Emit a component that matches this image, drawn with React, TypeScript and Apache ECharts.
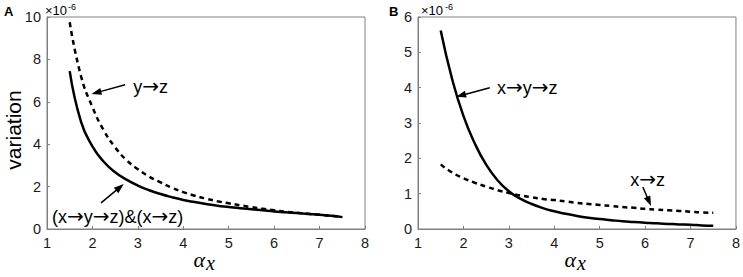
import React, { useEffect, useRef } from "react";
import * as echarts from "echarts";

// alpha_x sample positions
const alphaX = [1.5, 1.75, 2, 2.25, 2.5, 2.75, 3, 3.25, 3.5, 3.75, 4, 4.25, 4.5, 4.75, 5, 5.25, 5.5, 5.75, 6, 6.25, 6.5, 6.75, 7, 7.25, 7.5];
// Panel A (×10^-6)
const aChain = [7.45, 5.05, 3.9, 3.17, 2.68, 2.33, 2.05, 1.83, 1.65, 1.5, 1.37, 1.27, 1.18, 1.1, 1.04, 0.98, 0.93, 0.88, 0.83, 0.79, 0.75, 0.71, 0.67, 0.62, 0.56];
const aYZ = [9.75, 7.2, 5.75, 4.65, 3.85, 3.25, 2.82, 2.47, 2.2, 1.95, 1.74, 1.57, 1.43, 1.31, 1.21, 1.12, 1.03, 0.95, 0.88, 0.82, 0.77, 0.72, 0.67, 0.62, 0.57];
// Panel B (×10^-6)
const bXYZ = [5.62, 4.25, 3.2, 2.42, 1.82, 1.38, 1.07, 0.86, 0.71, 0.59, 0.5, 0.43, 0.37, 0.32, 0.28, 0.25, 0.22, 0.2, 0.18, 0.16, 0.145, 0.13, 0.12, 0.1, 0.09];
const bXZ = [1.83, 1.6, 1.44, 1.31, 1.2, 1.1, 1.02, 0.95, 0.9, 0.85, 0.82, 0.78, 0.74, 0.71, 0.68, 0.65, 0.62, 0.6, 0.57, 0.55, 0.53, 0.51, 0.49, 0.47, 0.46];

const xTicks = { min: 1, max: 8, interval: 1 };
const yTicksA = { min: 0, max: 10, interval: 2 };
const yTicksB = { min: 0, max: 6, interval: 1 };

// annotations: [grid, label, textX, textY, arrowFromX, arrowFromY, arrowToX, arrowToY]
const notes: [number, string, number, number, number, number, number, number][] = [
  [0, "y→z", 2.9, 6.7, 2.72, 6.8, 1.98, 6.37],
  [0, "(x→y→z)&(x→z)", 1.11, 0.57, 2.19, 1.23, 2.69, 2.12],
  [1, "x→y→z", 2.74, 4.0, 2.58, 4.0, 1.84, 3.74],
  [1, "x→z", 5.67, 1.39, 5.95, 1.19, 6.13, 0.65],
];

const FONT = "'Liberation Sans', Arial, sans-serif";
const GRAY = "#808080";

const pairs = (xs: number[], ys: number[]) => xs.map((x, i) => [x, ys[i]]);

export default function App() {
  const ref = useRef<HTMLDivElement>(null);
  useEffect(() => {
    document.body.style.margin = "0";
    const chart = echarts.init(ref.current!, null, { renderer: "svg" });
    const axisCommon = {
      type: "value",
      axisLine: { show: true, lineStyle: { color: GRAY, width: 1 } },
      axisTick: { show: true, inside: true, length: 3, lineStyle: { color: GRAY } },
      axisLabel: { fontSize: 14.5, color: "#1a1a1a", fontFamily: FONT, margin: 6 },
      splitLine: { show: false },
    };
    const line = (xi: number, data: number[], dashed: boolean) => ({
      type: "line",
      xAxisIndex: xi,
      yAxisIndex: xi,
      data: pairs(alphaX, data),
      showSymbol: false,
      smooth: 0.5,
      lineStyle: { color: "#000", width: 2.5, type: dashed ? [5, 4] : "solid" },
    });
    chart.setOption({
      animation: false,
      grid: [
        { left: 47, right: 378, top: 17, bottom: 48, show: true, borderColor: GRAY, borderWidth: 1 },
        { left: 418, right: 7, top: 17, bottom: 48, show: true, borderColor: GRAY, borderWidth: 1 },
      ],
      xAxis: [
        { ...axisCommon, gridIndex: 0, ...xTicks },
        { ...axisCommon, gridIndex: 1, ...xTicks },
      ],
      yAxis: [
        { ...axisCommon, gridIndex: 0, ...yTicksA },
        { ...axisCommon, gridIndex: 1, ...yTicksB },
      ],
      series: [line(0, aChain, false), line(0, aYZ, true), line(1, bXYZ, false), line(1, bXZ, true)],
    });

    const g: any[] = [];
    const txt = (x: number, y: number, text: string, size: number, extra: any = {}) => ({
      type: "text",
      x,
      y,
      style: { text, fontSize: size, fontFamily: FONT, fill: "#000", align: "left", verticalAlign: "middle", ...extra },
    });
    notes.forEach(([gi, label, tx, ty, fx, fy, ax, ay]) => {
      const p = chart.convertToPixel({ gridIndex: gi }, [tx, ty]) as number[];
      const f = chart.convertToPixel({ gridIndex: gi }, [fx, fy]) as number[];
      const a = chart.convertToPixel({ gridIndex: gi }, [ax, ay]) as number[];
      const richText = label
        .split("→")
        .map((s) => (s ? `{t|${s}}` : ""))
        .join("{r|→}");
      g.push({
        type: "text",
        x: p[0],
        y: p[1],
        style: {
          text: richText,
          align: "left",
          verticalAlign: "middle",
          rich: {
            t: { fontSize: 18, fontFamily: FONT, fill: "#000", lineHeight: 22, verticalAlign: "middle" },
            r: { fontSize: 20, fontFamily: "'DejaVu Sans', sans-serif", fill: "#000", lineHeight: 22, verticalAlign: "middle", padding: [0, 0, 2, 0] },
          },
        },
      });
      const dx = a[0] - f[0];
      const dy = a[1] - f[1];
      const len = Math.hypot(dx, dy);
      const ux = dx / len;
      const uy = dy / len;
      const hl = 10;
      const hw = 3.5;
      const bx = a[0] - ux * hl;
      const by = a[1] - uy * hl;
      g.push({
        type: "line",
        shape: { x1: f[0], y1: f[1], x2: bx + ux * 2, y2: by + uy * 2 },
        style: { stroke: "#000", lineWidth: 1.5 },
      });
      g.push({
        type: "polygon",
        shape: {
          points: [
            [a[0], a[1]],
            [bx - uy * hw, by + ux * hw],
            [bx + uy * hw, by - ux * hw],
          ],
        },
        style: { fill: "#000" },
      });
    });
    // panel letters and exponent labels
    g.push(txt(4, 11, "A", 13, { fontWeight: "bold" }));
    g.push(txt(389, 11, "B", 13, { fontWeight: "bold" }));
    g.push(txt(45, 10, "×10", 13));
    g.push(txt(68, 7, "-6", 9));
    g.push(txt(421, 10, "×10", 13));
    g.push(txt(445, 7, "-6", 9));
    // y axis title
    g.push({
      type: "text",
      x: 13,
      y: 130,
      rotation: Math.PI / 2,
      style: { text: "variation", fontSize: 21, fontFamily: FONT, fill: "#000", align: "center", verticalAlign: "middle" },
    });
    // x axis titles (alpha with subscript x)
    [0, 1].forEach((gi) => {
      const c = chart.convertToPixel({ gridIndex: gi }, [4.5, 0]) as number[];
      const SERIF = "'Liberation Serif', 'DejaVu Serif', serif";
      g.push({
        type: "text",
        x: c[0] - 1,
        y: 259,
        style: { text: "α", fontSize: 22, fontStyle: "italic", fontFamily: SERIF, fill: "#000", align: "right", verticalAlign: "middle" },
      });
      g.push({
        type: "text",
        x: c[0],
        y: 263,
        style: { text: "x", fontSize: 20, fontStyle: "italic", fontFamily: SERIF, fill: "#000", align: "left", verticalAlign: "middle" },
      });
    });
    chart.setOption({ graphic: g });
    return () => chart.dispose();
  }, []);
  return <div ref={ref} style={{ width: 743, height: 277 }} />;
}
